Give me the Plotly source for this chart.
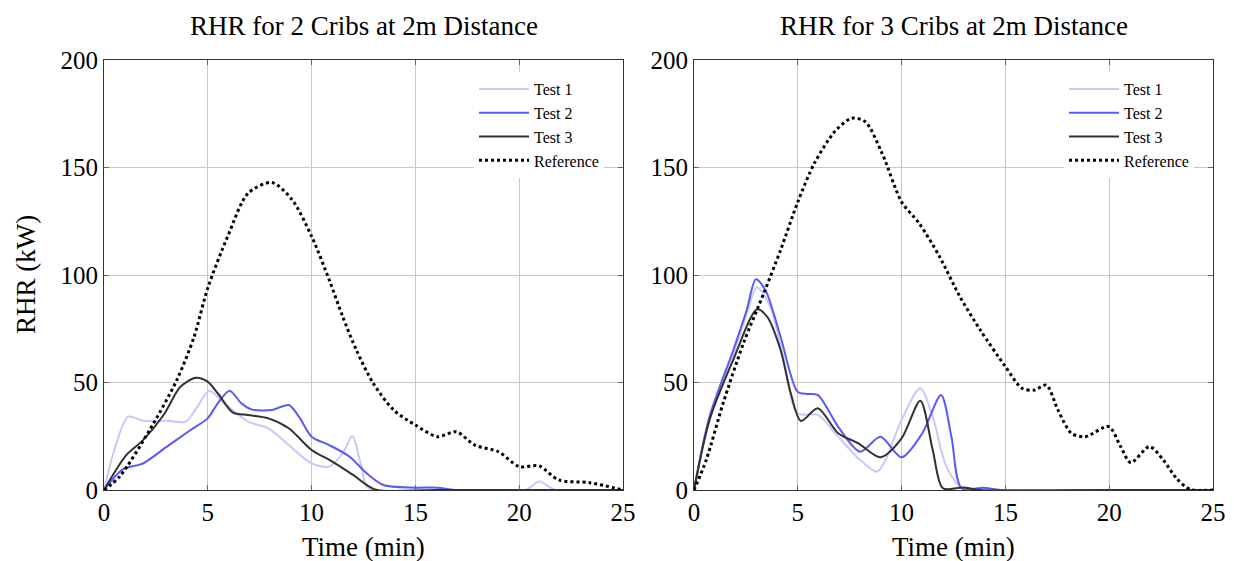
import plotly.graph_objects as go

# ---------- Left: 2 cribs ----------
l_ref_t = [0, 0.75, 2.2, 3.5, 4.33, 5.0, 5.96, 6.94, 8.08, 9.06, 10.0, 10.85, 11.5, 12.16, 12.97, 13.95, 15.0, 16.07, 16.97, 17.86, 19.0, 20.0, 20.96, 21.9, 23.4, 25.0]
l_ref_v = [0, 6.2, 27.9, 51, 71, 94, 118, 138, 143, 135, 118, 97.7, 80.6, 65, 49.6, 37.2, 30.2, 24.8, 27.1, 20.9, 17.8, 10.9, 11.2, 4.7, 3.4, 0]

l_t1_t = [0, 0.5, 1.16, 1.89, 3.03, 3.93, 4.5, 5.07, 5.8, 6.94, 7.92, 8.9, 10.0, 10.85, 11.5, 11.96, 12.32, 12.65, 12.97, 16.0, 20.3, 20.96, 21.77, 25.0]
l_t1_v = [0, 18.6, 34.1, 32.2, 32.2, 31.8, 38.8, 46.2, 40.3, 31.8, 28.7, 20.9, 12.4, 10.9, 17.1, 25.1, 14, 1.6, 0, 0, 0, 3.9, 0, 0]

l_t2_t = [0, 0.91, 1.89, 3.03, 4.17, 4.99, 5.48, 6.05, 6.62, 7.1, 8.08, 8.9, 9.39, 10.0, 10.85, 11.83, 12.65, 13.46, 15.0, 16.07, 16.9, 20.0, 25.0]
l_t2_v = [0, 9.6, 12.4, 20.2, 27.9, 33.3, 40.3, 46.2, 40.3, 37.5, 37.2, 39.5, 34.1, 24.8, 20.9, 15.5, 7.8, 2.3, 1.1, 1.1, 0, 0, 0]

l_t3_t = [0, 1.08, 1.89, 2.87, 3.68, 4.42, 4.99, 5.48, 6.21, 6.94, 7.92, 8.9, 10.0, 11.0, 12.0, 13.05, 16.0, 20.0, 25.0]
l_t3_v = [0, 16.3, 23.3, 34.9, 48, 52.2, 50.4, 45, 36, 34.9, 33.3, 28.7, 18.6, 13.2, 7, 0.3, 0, 0, 0]

# ---------- Right: 3 cribs ----------
r_ref_t = [0, 0.59, 1.4, 2.38, 3.36, 4.17, 5.0, 5.8, 6.78, 7.59, 8.25, 9.06, 10.0, 10.85, 11.83, 12.81, 13.79, 15.0, 15.8, 16.4, 16.97, 17.53, 18.18, 18.84, 19.98, 20.55, 21.04, 21.94, 22.6, 23.24, 23.9, 25.0]
r_ref_v = [0, 14, 40.3, 68.2, 91.5, 111.6, 134, 152, 166.7, 172.9, 171.3, 156.6, 134, 124, 108.5, 89.9, 74.4, 57.4, 47.3, 46.5, 48.8, 37.2, 26.4, 24.8, 29.5, 20.2, 12.7, 20.2, 14, 5.4, 0.3, 0]

r_t1_t = [0, 0.75, 1.89, 2.54, 3.03, 3.68, 4.3, 4.99, 5.96, 6.94, 7.92, 8.82, 9.22, 10.0, 10.9, 11.5, 12.16, 12.97, 16.0, 20.0, 25.0]
r_t1_v = [0, 34.1, 63, 82, 94.3, 85, 62, 35.7, 34.9, 24.8, 14.7, 8.5, 14, 32.6, 47.3, 34.1, 10.9, 0.3, 0, 0, 0]

r_t2_t = [0, 0.75, 1.89, 2.54, 2.98, 3.44, 4.17, 4.99, 5.48, 5.96, 6.94, 8.0, 8.98, 10.0, 11.0, 11.9, 12.4, 12.89, 13.95, 14.77, 20.0, 25.0]
r_t2_v = [0, 34.1, 65, 83.7, 98, 93, 71.3, 45.7, 44.7, 44.2, 29.5, 17.8, 24.8, 15.2, 26.4, 44.2, 24.8, 0.8, 1.1, 0, 0, 0]

r_t3_t = [0, 0.75, 1.89, 3.03, 3.52, 4.17, 4.66, 5.15, 5.96, 6.94, 7.92, 8.98, 10.0, 10.9, 11.5, 11.99, 12.97, 13.79, 20.0, 25.0]
r_t3_v = [0, 32.6, 60.5, 84, 80.6, 65.1, 45, 32.1, 38, 26.4, 21.7, 15.2, 24, 41.5, 18.6, 0.8, 1.2, 0, 0, 0]

x_ticks = [0, 5, 10, 15, 20, 25]
y_ticks = [0, 50, 100, 150, 200]

C1 = "rgb(200,200,250)"
C2 = "rgb(90,90,245)"
C3 = "rgb(50,50,50)"
FONT = "Liberation Serif"

W, H = 1234, 561   # body margin removed via post_script
OFF = 0

def px_x(p):
    return (p - OFF) / W

def px_y(p):
    return (H - (p - OFF)) / H

fig = go.Figure()

def add_set(xa, ya, leg, data):
    (t1, v1), (t2, v2), (t3, v3), (tr, vr) = data
    fig.add_trace(go.Scatter(x=t1, y=v1, mode="lines", name="Test 1", line=dict(color=C1, width=2, shape="spline", smoothing=0.8), xaxis=xa, yaxis=ya, legend=leg))
    fig.add_trace(go.Scatter(x=t2, y=v2, mode="lines", name="Test 2", line=dict(color=C2, width=2, shape="spline", smoothing=0.8), xaxis=xa, yaxis=ya, legend=leg))
    fig.add_trace(go.Scatter(x=t3, y=v3, mode="lines", name="Test 3", line=dict(color=C3, width=2, shape="spline", smoothing=0.8), xaxis=xa, yaxis=ya, legend=leg))
    fig.add_trace(go.Scatter(x=tr, y=vr, mode="lines", name="Reference", line=dict(color="black", width=3, dash="dot", shape="spline", smoothing=0.8), xaxis=xa, yaxis=ya, legend=leg))

add_set("x", "y", "legend", [(l_t1_t, l_t1_v), (l_t2_t, l_t2_v), (l_t3_t, l_t3_v), (l_ref_t, l_ref_v)])
add_set("x2", "y2", "legend2", [(r_t1_t, r_t1_v), (r_t2_t, r_t2_v), (r_t3_t, r_t3_v), (r_ref_t, r_ref_v)])

ax_common = dict(showline=True, linecolor="#333", linewidth=1.2, mirror="ticks", ticks="inside", ticklen=5,
                 tickcolor="#666", showgrid=True, gridcolor="#c8c8c8", gridwidth=1, zeroline=False,
                 automargin=False, tickfont=dict(family=FONT, size=25, color="black"))

yd = [px_y(490), px_y(60)]
TSIZE = 27

def label(text, xp, yp, angle=0):
    return dict(text=text, x=px_x(xp), y=px_y(yp), xref="paper", yref="paper", showarrow=False,
                textangle=angle, font=dict(family=FONT, size=TSIZE), xanchor="center", yanchor="middle")

fig.update_layout(
    width=W, height=H,
    margin=dict(l=0, r=0, t=0, b=0, autoexpand=False),
    paper_bgcolor="white", plot_bgcolor="white",
    font=dict(family=FONT, color="black"),
    xaxis=dict(domain=[px_x(104), px_x(623)], range=[0, 25], tickvals=x_ticks, anchor="y", **ax_common),
    yaxis=dict(domain=yd, range=[0, 200], tickvals=y_ticks, anchor="x", **ax_common),
    xaxis2=dict(domain=[px_x(694), px_x(1213)], range=[0, 25], tickvals=x_ticks, anchor="y2", **ax_common),
    yaxis2=dict(domain=yd, range=[0, 200], tickvals=y_ticks, anchor="x2", **ax_common),
    legend=dict(x=px_x(604), xanchor="right", y=px_y(72), yanchor="top", bgcolor="white",
                font=dict(family=FONT, size=16), tracegroupgap=0, itemwidth=50),
    legend2=dict(x=px_x(1194), xanchor="right", y=px_y(72), yanchor="top", bgcolor="white",
                 font=dict(family=FONT, size=16), tracegroupgap=0, itemwidth=50),
    annotations=[
        label("RHR for 2 Cribs at 2m Distance", (104 + 623) / 2, 26),
        label("RHR for 3 Cribs at 2m Distance", (694 + 1213) / 2, 26),
        label("Time (min)", (104 + 623) / 2, 547),
        label("Time (min)", (694 + 1213) / 2, 547),
        label("RHR (kW)", 26, 275, -90),
    ],
)

fig.write_html("out.html", config={"displayModeBar": False},
               post_script="document.body.style.margin='0';document.body.style.overflow='hidden';")
